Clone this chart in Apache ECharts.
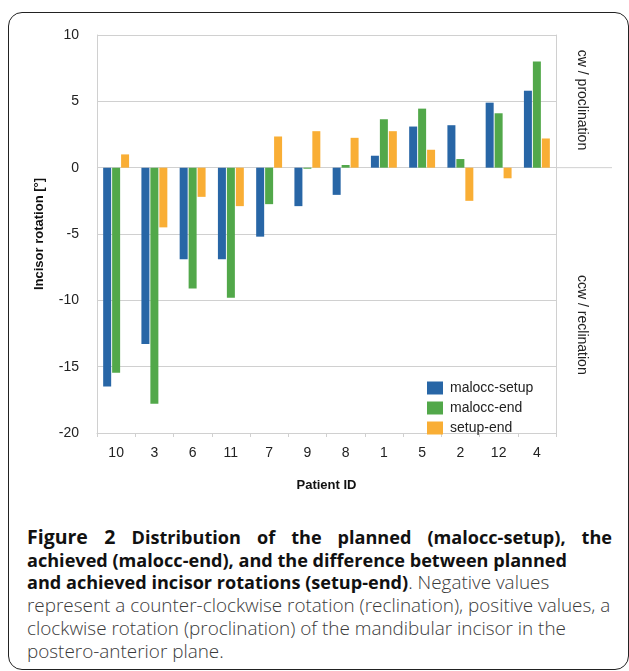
<!DOCTYPE html>
<html>
<head>
<meta charset="utf-8">
<script src="https://cdn.jsdelivr.net/npm/echarts@6/dist/echarts.min.js"></script>
<style>
  html, body { margin: 0; padding: 0; background: #fff; width: 629px; height: 671px; overflow: hidden; }
  #frame { position: absolute; left: 8px; top: 12px; width: 621px; height: 658px; border: 1.6px solid #222; border-radius: 14px; box-sizing: border-box; }
  #chart { position: absolute; left: 0; top: 0; width: 629px; height: 520px; }
  #caption { position: absolute; left: 27px; top: 526px; width: 585px; font-family: "Open Sans", sans-serif; font-size: 18.9px; font-weight: 300; line-height: 22.7px; color: #3a3a3a; }
  #caption div { white-space: nowrap; }
  #caption .j { text-align: justify; text-align-last: justify; white-space: normal; }
  #caption b { color: #111; font-weight: 700; font-size: 18.1px; }
  #caption b.fig { font-size: 19.5px; }
</style>
</head>
<body>
<div id="frame"></div>
<div id="chart"></div>
<div id="caption">
  <div class="j"><b class="fig">Figure 2</b> <b>Distribution of the planned (malocc-setup), the</b></div>
  <div><b>achieved (malocc-end), and the difference between planned</b></div>
  <div><b>and achieved incisor rotations (setup-end)</b>. Negative values</div>
  <div>represent a counter-clockwise rotation (reclination), positive values, a</div>
  <div>clockwise rotation (proclination) of the mandibular incisor in the</div>
  <div>postero-anterior plane.</div>
</div>
<script>
const categories = ['10', '3', '6', '11', '7', '9', '8', '1', '5', '2', '12', '4'];
const maloccSetup = [-16.5, -13.3, -6.9, -6.9, -5.2, -2.9, -2.05, 0.9, 3.1, 3.2, 4.9, 5.8];
const maloccEnd   = [-15.45, -17.8, -9.1, -9.8, -2.75, -0.08, 0.2, 3.65, 4.45, 0.65, 4.1, 8.0];
const setupEnd    = [1.0, -4.5, -2.2, -2.9, 2.35, 2.75, 2.25, 2.75, 1.35, -2.5, -0.8, 2.2];
const yTicks = { min: -20, max: 10, interval: 5 };

const chart = echarts.init(document.getElementById('chart'), null, { renderer: 'canvas' });
const font = '"Liberation Sans", Arial, sans-serif';
const gridColor = '#d0d0d0';

const option = {
  animation: false,
  textStyle: { fontFamily: font },
  grid: { left: 97, top: 35, width: 459, height: 398, containLabel: false },
  legend: {
    orient: 'vertical', left: 422, top: 376,
    itemWidth: 16, itemHeight: 13, itemGap: 6,
    icon: 'rect',
    textStyle: { fontSize: 14, color: '#222', fontFamily: font, padding: [0, 0, 0, 2] },
    data: ['malocc-setup', 'malocc-end', 'setup-end']
  },
  xAxis: {
    type: 'category', data: categories,
    name: 'Patient ID', nameLocation: 'middle', nameGap: 46,
    nameTextStyle: { fontSize: 13, fontWeight: 'bold', color: '#111', fontFamily: font },
    axisLine: { show: true, onZero: false, lineStyle: { color: gridColor, width: 1 } },
    axisTick: { show: true, length: 4, lineStyle: { color: gridColor } },
    axisLabel: { fontSize: 14, color: '#222', margin: 13, fontFamily: font },
    splitLine: { show: false }
  },
  yAxis: [{
    type: 'value', min: yTicks.min, max: yTicks.max, interval: yTicks.interval,
    name: 'Incisor rotation [°]', nameLocation: 'middle', nameGap: 51, nameRotate: 90,
    nameTextStyle: { fontSize: 13, fontWeight: 'bold', color: '#111', fontFamily: font },
    axisLine: { show: true, lineStyle: { color: gridColor, width: 1 } },
    axisTick: { show: false },
    axisLabel: { fontSize: 14, color: '#222', margin: 18, fontFamily: font },
    splitLine: { show: true, lineStyle: { color: gridColor, width: 1 } }
  }, {
    type: 'value', position: 'right', min: yTicks.min, max: yTicks.max, interval: yTicks.interval,
    axisLine: { show: true, lineStyle: { color: gridColor, width: 1 } },
    axisTick: { show: false }, axisLabel: { show: false }, splitLine: { show: false }
  }],
  series: [
    { name: 'malocc-setup', type: 'bar', data: maloccSetup, barWidth: 8, barGap: '12%', itemStyle: { color: '#2866a6' } },
    { name: 'malocc-end', type: 'bar', data: maloccEnd, barWidth: 8, barGap: '12%', itemStyle: { color: '#52a84a' } },
    { name: 'setup-end', type: 'bar', data: setupEnd, barWidth: 8, barGap: '12%', itemStyle: { color: '#f9ae35' } }
  ]
};
chart.setOption(option);

const y0 = chart.convertToPixel({ yAxisIndex: 0 }, 0);
const yCw = chart.convertToPixel({ yAxisIndex: 0 }, 5.1);
const yCcw = chart.convertToPixel({ yAxisIndex: 0 }, -11.85);
const xRight = chart.convertToPixel({ xAxisIndex: 0 }, categories[categories.length - 1]) + 459 / 24;
chart.setOption({
  graphic: [
    { type: 'line', shape: { x1: xRight, y1: y0, x2: 612, y2: y0 }, style: { stroke: gridColor, lineWidth: 1 }, silent: true },
    { type: 'text', x: 582, y: yCw, rotation: -Math.PI / 2,
      style: { text: 'cw / proclination', fontSize: 14, fontFamily: font, fill: '#222', align: 'center', verticalAlign: 'middle' } },
    { type: 'text', x: 582, y: yCcw, rotation: -Math.PI / 2,
      style: { text: 'ccw / reclination', fontSize: 14, fontFamily: font, fill: '#222', align: 'center', verticalAlign: 'middle' } }
  ]
});
</script>
</body>
</html>
